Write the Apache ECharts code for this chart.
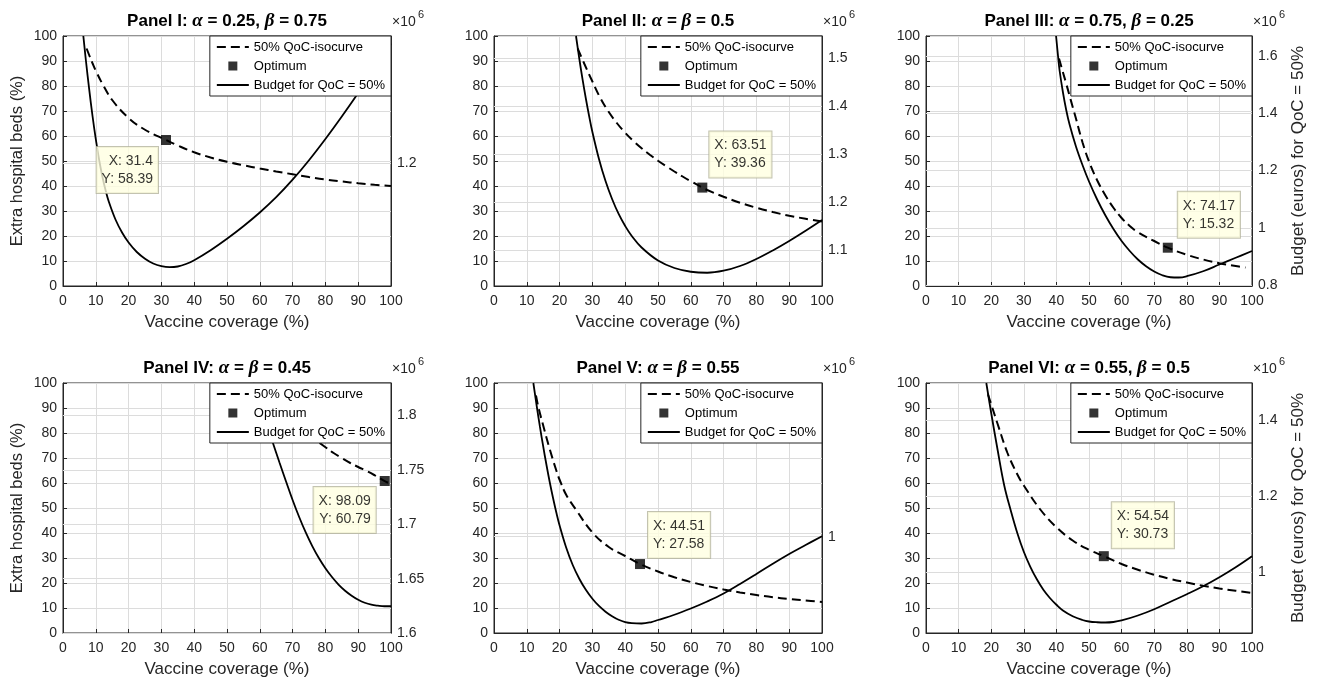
<!DOCTYPE html>
<html>
<head>
<meta charset="utf-8">
<title>QoC isocurves and budgets</title>
<script src="https://cdn.jsdelivr.net/npm/echarts@6.0.0/dist/echarts.min.js"></script>
<style>
  html, body { margin: 0; padding: 0; background: #fff; }
  #chart { width: 1320px; height: 682px; }
</style>
</head>
<body>
<div id="chart"></div>
<script>
// ---- data ----
// 50% QoC-isocurve: vaccine coverage (%) -> extra hospital beds (%)
const isoX1 = [7.2, 8, 9, 10, 12, 15, 20, 25, 31.4, 35, 40, 45, 50, 55, 60, 65, 70, 75, 80, 85, 90, 95, 100];
const isoY1 = [95, 92.3, 89.1, 86.1, 80.9, 74.4, 67.2, 62.5, 58.39, 56.2, 53.5, 51.4, 49.7, 48.3, 47, 45.8, 44.7, 43.6, 42.6, 41.8, 41.1, 40.5, 40];
const isoX2 = [25.5, 27.5, 30, 32.5, 35, 37.5, 40, 42.5, 45, 47.5, 50, 52.5, 55, 57.5, 60, 63.51, 65, 70, 75, 80, 85, 90, 95, 100];
const isoY2 = [95, 89, 81.8, 75, 69.6, 65.1, 61.3, 58, 55.1, 52.5, 50.1, 47.9, 45.8, 43.8, 41.9, 39.36, 38.4, 35.7, 33.3, 31.3, 29.6, 28.1, 26.9, 25.8];
const isoX3 = [40.8, 42, 43, 44, 45, 46, 48, 50, 52.5, 55, 57.5, 60, 62.5, 65, 70, 74.17, 80, 85, 90, 95, 98];
const isoY3 = [91, 85.5, 81, 76.3, 71.6, 67, 57.5, 49.8, 42.3, 36.3, 31.3, 27.2, 24, 21.5, 18, 15.32, 12.5, 10.6, 9.1, 8, 7.4];
const isoX4 = [65, 70, 75, 79.4, 82.5, 85, 87.6, 90, 92.7, 95, 98.09, 100];
const isoY4 = [90, 84.5, 79.2, 74.9, 72, 70, 68, 66.4, 64.7, 63.1, 60.79, 59.5];
const isoX5 = [12.8, 13.5, 15, 17, 19, 20, 22, 25, 30, 35, 40, 44.51, 50, 55, 60, 65, 70, 75, 80, 85, 90, 95, 100];
const isoY5 = [95, 90.5, 83, 73.5, 65, 61.3, 55.3, 49.3, 40.2, 34.4, 30.8, 27.58, 24.6, 22.3, 20.4, 18.8, 17.4, 16.2, 15.2, 14.3, 13.6, 13, 12.4];
const isoX6 = [19, 20, 22, 25, 28, 30, 35, 40, 45, 50, 54.54, 60, 65, 70, 75, 80, 85, 90, 95, 100];
const isoY6 = [95.5, 91.5, 83.5, 72, 63.5, 59, 49.5, 42.3, 37, 33.3, 30.73, 27.6, 25.3, 23.3, 21.6, 20.2, 18.9, 17.8, 16.9, 16];

// Budget for QoC = 50%: vaccine coverage (%) -> euros (x 10^6)
const budX1 = [6.2, 7, 8, 9, 10, 11, 12, 13, 14, 16, 18, 20, 22.5, 25, 27.5, 30, 32.5, 35, 37.5, 40, 45, 50, 55, 60, 65, 70, 75, 80, 85, 90, 95, 100];
const budY1 = [1.378, 1.343, 1.3028, 1.266, 1.2335, 1.2051, 1.1813, 1.1617, 1.1456, 1.1211, 1.1029, 1.0889, 1.0756, 1.0662, 1.0595, 1.0557, 1.0543, 1.0553, 1.0588, 1.0641, 1.0781, 1.0942, 1.1117, 1.1309, 1.1523, 1.1768, 1.2041, 1.2338, 1.2653, 1.2982, 1.3325, 1.3675];
const budX2 = [25, 26, 27, 28, 29, 30, 32, 34, 36, 38, 40, 42, 45, 50, 55, 60, 65, 70, 75, 80, 85, 90, 95, 100];
const budY2 = [1.546, 1.4991, 1.4554, 1.4158, 1.3793, 1.3459, 1.2897, 1.2438, 1.2063, 1.1751, 1.15, 1.1292, 1.1052, 1.0781, 1.0625, 1.0547, 1.0526, 1.0568, 1.0667, 1.0813, 1.099, 1.1188, 1.1401, 1.1625];
const budX3 = [39.9, 40.5, 41, 42, 43, 44, 46, 48, 50, 52.5, 55, 57.5, 60, 62.5, 65, 67.5, 70, 72.5, 75, 77.5, 80, 85, 90, 95, 100];
const budY3 = [1.67, 1.6001, 1.5477, 1.4735, 1.4123, 1.3625, 1.2839, 1.2193, 1.1616, 1.0987, 1.0437, 0.9957, 0.9537, 0.9188, 0.8891, 0.8655, 0.8472, 0.8341, 0.8271, 0.8262, 0.8306, 0.848, 0.8716, 0.8952, 0.9188];
const budX4 = [58, 60, 62, 64, 66, 68, 70, 72, 74, 76, 78, 80, 82, 84, 86, 88, 90, 92, 94, 96, 98, 100];
const budY4 = [1.83, 1.8116, 1.7932, 1.7748, 1.7569, 1.7394, 1.7224, 1.7067, 1.6925, 1.68, 1.669, 1.6596, 1.6515, 1.6446, 1.6389, 1.6343, 1.6306, 1.6278, 1.626, 1.6251, 1.6246, 1.6246];
const budX5 = [12, 13, 14, 15, 16, 17, 18, 19, 20, 22, 24, 26, 28, 30, 32, 34, 36, 38, 40, 42, 45, 48, 50, 55, 60, 65, 70, 75, 80, 85, 90, 95, 100];
const budY5 = [1.1906, 1.1627, 1.1364, 1.1119, 1.0889, 1.0675, 1.048, 1.03, 1.0139, 0.9866, 0.9649, 0.9479, 0.9342, 0.9231, 0.9141, 0.907, 0.9014, 0.897, 0.8942, 0.8929, 0.8924, 0.8942, 0.8967, 0.9032, 0.911, 0.9197, 0.9296, 0.9414, 0.9538, 0.9665, 0.9786, 0.9897, 1.0006];
const budX6 = [18.5, 20, 22, 24, 26, 28, 30, 32, 34, 36, 38, 40, 42, 45, 48, 50, 52.5, 55, 57.5, 60, 65, 70, 75, 80, 85, 90, 95, 100];
const budY6 = [1.4976, 1.4185, 1.3197, 1.2274, 1.1615, 1.1022, 1.0528, 1.0132, 0.9803, 0.9526, 0.9309, 0.9131, 0.8979, 0.8828, 0.8729, 0.8689, 0.8669, 0.8663, 0.8676, 0.8716, 0.8847, 0.9012, 0.921, 0.9408, 0.9618, 0.9856, 1.0119, 1.0409];

// optimum points (data tips)
const optX = [31.4, 63.51, 74.17, 98.09, 44.51, 54.54];
const optY = [58.39, 39.36, 15.32, 60.79, 27.58, 30.73];

// right axis (budget, x 10^6) ranges and tick labels
const budgetMin = [1.028, 1.025, 0.7965, 1.6, 0.8806, 0.8386];
const budgetMax = [1.378, 1.546, 1.67, 1.83, 1.1906, 1.4976];
const budgetTicks = [[1.2], [1.1, 1.2, 1.3, 1.4, 1.5], [0.8, 1, 1.2, 1.4, 1.6], [1.6, 1.65, 1.7, 1.75, 1.8], [1], [1, 1.2, 1.4]];

const titles = [
  'Panel I: α = 0.25, β = 0.75',
  'Panel II: α = β = 0.5',
  'Panel III: α = 0.75, β = 0.25',
  'Panel IV: α = β = 0.45',
  'Panel V: α = β = 0.55',
  'Panel VI: α = 0.55, β = 0.5'
];

const ISO = [[isoX1, isoY1], [isoX2, isoY2], [isoX3, isoY3], [isoX4, isoY4], [isoX5, isoY5], [isoX6, isoY6]];
const BUD = [[budX1, budY1], [budX2, budY2], [budX3, budY3], [budX4, budY4], [budX5, budY5], [budX6, budY6]];

// ---- layout ----
const FONT = '"Liberation Sans", Arial, Helvetica, sans-serif';
const INK = '#262626';
const GRID_COLOR = '#dcdcdc';

const LAYOUT = [
  { left: 63, top: 36, width: 328, height: 250 },
  { left: 494, top: 36, width: 328, height: 250 },
  { left: 926, top: 36, width: 326, height: 250 },
  { left: 63, top: 383, width: 328, height: 250 },
  { left: 494, top: 383, width: 328, height: 250 },
  { left: 926, top: 383, width: 326, height: 250 }
];

// where the data tip box sits relative to the optimum marker
const TIP = [
  { position: [-3, 12], align: 'right', verticalAlign: 'top' },
  { position: [12, -5], align: 'left', verticalAlign: 'bottom' },
  { position: [15, -5], align: 'left', verticalAlign: 'bottom' },
  { position: [-4, 11], align: 'right', verticalAlign: 'top' },
  { position: [13, -1], align: 'left', verticalAlign: 'bottom' },
  { position: [13, -3], align: 'left', verticalAlign: 'bottom' }
];

const SQUARE = 'path://M0,0H10V10H0Z';

function pairs(xs, ys) {
  return xs.map((x, i) => [x, ys[i]]);
}

function richTitle(s) {
  return s.split(/([αβ])/).filter(Boolean)
    .map(p => (p === 'α' || p === 'β') ? `{g|${p}}` : `{b|${p}}`).join('');
}

const chart = echarts.init(document.getElementById('chart'));

const grid = [], xAxis = [], yAxis = [], series = [], title = [], legend = [], graphic = [];

LAYOUT.forEach((L, i) => {
  const right = L.left + L.width;

  grid.push({
    left: L.left, top: L.top, width: L.width, height: L.height,
    show: true, borderColor: INK, borderWidth: 1, backgroundColor: '#fff'
  });

  title.push({
    text: richTitle(titles[i]),
    left: L.left + L.width / 2,
    top: L.top - 24,
    textAlign: 'center',
    padding: 0,
    textStyle: {
      rich: {
        b: { fontFamily: FONT, fontWeight: 'bold', fontSize: 17, color: '#000' },
        g: { fontFamily: '"Liberation Serif", "DejaVu Serif", serif', fontStyle: 'italic', fontSize: 19, color: '#000' }
      }
    }
  });

  xAxis.push({
    gridIndex: i, type: 'value', min: 0, max: 100, interval: 10,
    name: 'Vaccine coverage (%)', nameLocation: 'middle', nameGap: 28,
    nameTextStyle: { fontSize: 17, color: INK, fontFamily: FONT },
    axisLine: { show: true, lineStyle: { color: INK, width: 1 } },
    axisTick: { show: true, inside: true, length: 4, lineStyle: { color: INK } },
    axisLabel: { fontSize: 14, color: INK, margin: 8, fontFamily: FONT },
    splitLine: { show: true, lineStyle: { color: GRID_COLOR, width: 1 } }
  });

  yAxis.push({
    gridIndex: i, type: 'value', position: 'left', min: 0, max: 100, interval: 10,
    name: (i === 0 || i === 3) ? 'Extra hospital beds (%)' : '',
    nameLocation: 'middle', nameGap: 37,
    nameTextStyle: { fontSize: 16.5, color: INK, fontFamily: FONT },
    axisLine: { show: true, lineStyle: { color: INK, width: 1 } },
    axisTick: { show: true, inside: true, length: 4, lineStyle: { color: INK } },
    axisLabel: { fontSize: 14, color: INK, margin: 6, fontFamily: FONT },
    splitLine: { show: true, lineStyle: { color: GRID_COLOR, width: 1 } }
  });

  yAxis.push({
    gridIndex: i, type: 'value', position: 'right',
    min: budgetMin[i], max: budgetMax[i],
    name: (i === 2 || i === 5) ? 'Budget (euros) for QoC = 50%' : '',
    nameLocation: 'middle', nameGap: 38,
    nameTextStyle: { fontSize: 17, color: INK, fontFamily: FONT },
    axisLine: { show: true, lineStyle: { color: INK, width: 1 } },
    axisTick: { show: true, inside: true, length: 4, lineStyle: { color: INK }, customValues: budgetTicks[i] },
    axisLabel: {
      fontSize: 14, color: INK, margin: 6, fontFamily: FONT,
      customValues: budgetTicks[i],
      formatter: v => String(+v.toFixed(2))
    },
    splitLine: { show: false }
  });

  series.push({
    type: 'line', name: '50% QoC-isocurve',
    xAxisIndex: i, yAxisIndex: 2 * i,
    data: pairs(ISO[i][0], ISO[i][1]),
    symbol: 'none', smooth: 0.4, silent: true,
    lineStyle: { color: '#000', width: 2, type: [9, 5] },
    itemStyle: { color: '#000' }, z: 3
  });

  series.push({
    type: 'line', name: 'Budget for QoC = 50%',
    xAxisIndex: i, yAxisIndex: 2 * i + 1,
    data: pairs(BUD[i][0], BUD[i][1]),
    symbol: 'none', smooth: 0.4, silent: true,
    lineStyle: { color: '#000', width: 1.8, type: 'solid' },
    itemStyle: { color: '#000' }, z: 3,
    // grid lines of the right axis
    markLine: {
      silent: true, symbol: 'none', z: 1, animation: false,
      label: { show: false },
      lineStyle: { color: GRID_COLOR, type: 'solid', width: 1 },
      data: budgetTicks[i].map(v => ({ yAxis: v }))
    }
  });

  series.push({
    type: 'scatter', name: 'Optimum',
    xAxisIndex: i, yAxisIndex: 2 * i,
    data: [[optX[i], optY[i]]],
    symbol: 'rect', symbolSize: 10, silent: true,
    itemStyle: { color: '#000' },
    z: 6,
    label: {
      show: true,
      formatter: `X: ${optX[i]}\nY: ${optY[i]}`,
      position: TIP[i].position, align: TIP[i].align, verticalAlign: TIP[i].verticalAlign,
      fontFamily: FONT, fontSize: 14, lineHeight: 18, color: '#000',
      backgroundColor: '#ffffe1', borderColor: '#b4b49c', borderWidth: 1,
      padding: [5, 5, 5, 5]
    }
  });

  legend.push({
    data: [
      { name: '50% QoC-isocurve', itemStyle: { opacity: 0 } },
      { name: 'Optimum', icon: SQUARE },
      { name: 'Budget for QoC = 50%', itemStyle: { opacity: 0 } }
    ],
    orient: 'vertical',
    right: 1320 - right, top: L.top,
    itemWidth: 32, itemHeight: 9, itemGap: 3,
    symbolKeepAspect: true,
    padding: [3, 6, 3, 6],
    backgroundColor: '#fff', borderColor: INK, borderWidth: 1, borderRadius: 0,
    textStyle: { fontFamily: FONT, fontSize: 13, color: '#000', lineHeight: 16 },
    selectedMode: false, z: 10
  });

  graphic.push({
    type: 'text', left: right + 1, top: L.top - 21,
    style: { text: '×10', font: `14px ${FONT}`, fill: INK }
  });
  graphic.push({
    type: 'text', left: right + 27, top: L.top - 27,
    style: { text: '6', font: `11px ${FONT}`, fill: INK }
  });
});

chart.setOption({
  backgroundColor: '#fff',
  animation: false,
  textStyle: { fontFamily: FONT },
  title, grid, xAxis, yAxis, legend, series, graphic
});
</script>
</body>
</html>
